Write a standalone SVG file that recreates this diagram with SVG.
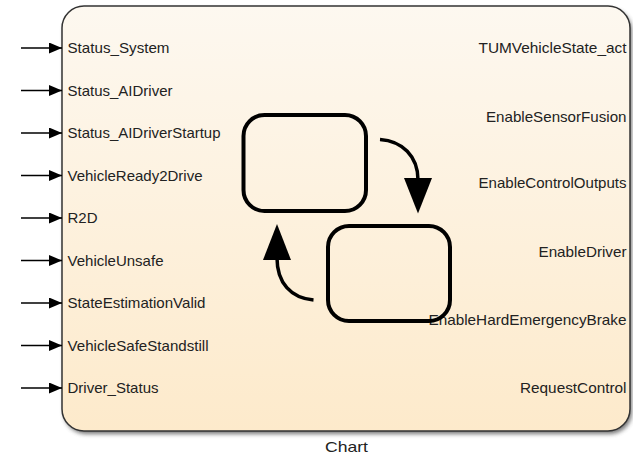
<svg xmlns="http://www.w3.org/2000/svg" width="633" height="454" viewBox="0 0 633 454">
<defs>
<linearGradient id="bg" x1="0" y1="0" x2="0" y2="1">
<stop offset="0" stop-color="#fdf8f0"/>
<stop offset="1" stop-color="#fdeacb"/>
</linearGradient>
<filter id="sh" x="-5%" y="-5%" width="110%" height="115%">
<feGaussianBlur stdDeviation="2"/>
</filter>
<marker id="in" viewBox="0 0 13 11" refX="13" refY="5.5" markerWidth="13" markerHeight="11" markerUnits="userSpaceOnUse" orient="auto">
<path d="M0,0 L13,5.5 L0,11 Z" fill="#000"/>
</marker>
</defs>
<style>
text{font-family:"Liberation Sans",Arial,sans-serif;font-size:14.5px;fill:#222}
.r{text-anchor:end}
.st{fill:none;stroke:#000;stroke-width:4}
.tr{fill:none;stroke:#000;stroke-width:3.5}
.port{stroke:#000;stroke-width:1.5;fill:none}
</style>
<g id="chart">
<rect x="64" y="9" width="568" height="425" rx="22" fill="#555" filter="url(#sh)" opacity="0.8"/>
<rect x="62" y="6" width="568" height="425" rx="22" fill="url(#bg)" stroke="#333" stroke-width="1.5"/>
<text x="346.5" y="451.5" style="text-anchor:middle" textLength="43" lengthAdjust="spacingAndGlyphs">Chart</text>
</g>
<g id="inputs">
<line class="port" x1="21" y1="48" x2="62" y2="48" marker-end="url(#in)"/>
<line class="port" x1="21" y1="90.5" x2="62" y2="90.5" marker-end="url(#in)"/>
<line class="port" x1="21" y1="133" x2="62" y2="133" marker-end="url(#in)"/>
<line class="port" x1="21" y1="175.5" x2="62" y2="175.5" marker-end="url(#in)"/>
<line class="port" x1="21" y1="218" x2="62" y2="218" marker-end="url(#in)"/>
<line class="port" x1="21" y1="260.5" x2="62" y2="260.5" marker-end="url(#in)"/>
<line class="port" x1="21" y1="303" x2="62" y2="303" marker-end="url(#in)"/>
<line class="port" x1="21" y1="345.5" x2="62" y2="345.5" marker-end="url(#in)"/>
<line class="port" x1="21" y1="388" x2="62" y2="388" marker-end="url(#in)"/>
</g>
<g id="input-labels">
<text x="67.5" y="53.3" textLength="102" lengthAdjust="spacingAndGlyphs">Status_System</text>
<text x="67.5" y="95.8" textLength="105" lengthAdjust="spacingAndGlyphs">Status_AIDriver</text>
<text x="67.5" y="138.3" textLength="153" lengthAdjust="spacingAndGlyphs">Status_AIDriverStartup</text>
<text x="67.5" y="180.8" textLength="135" lengthAdjust="spacingAndGlyphs">VehicleReady2Drive</text>
<text x="67.5" y="223.3" textLength="30" lengthAdjust="spacingAndGlyphs">R2D</text>
<text x="67.5" y="265.8" textLength="96" lengthAdjust="spacingAndGlyphs">VehicleUnsafe</text>
<text x="67.5" y="308.3" textLength="138" lengthAdjust="spacingAndGlyphs">StateEstimationValid</text>
<text x="67.5" y="350.8" textLength="141" lengthAdjust="spacingAndGlyphs">VehicleSafeStandstill</text>
<text x="67.5" y="393.3" textLength="91" lengthAdjust="spacingAndGlyphs">Driver_Status</text>
</g>
<g id="output-labels">
<text class="r" x="626.5" y="53.3" textLength="148" lengthAdjust="spacingAndGlyphs">TUMVehicleState_act</text>
<text class="r" x="626.5" y="121.7" textLength="140.5" lengthAdjust="spacingAndGlyphs">EnableSensorFusion</text>
<text class="r" x="626.5" y="188.3" textLength="148" lengthAdjust="spacingAndGlyphs">EnableControlOutputs</text>
<text class="r" x="626.5" y="257.3" textLength="88" lengthAdjust="spacingAndGlyphs">EnableDriver</text>
<text class="r" x="626.5" y="325.3" textLength="198" lengthAdjust="spacingAndGlyphs">EnableHardEmergencyBrake</text>
<text class="r" x="626.5" y="393.3" textLength="106.5" lengthAdjust="spacingAndGlyphs">RequestControl</text>
</g>
<g id="state1">
<rect class="st" x="243.5" y="115" width="122.5" height="96" rx="21"/>
</g>
<g id="state2">
<rect class="st" x="328" y="226" width="122" height="95" rx="21"/>
</g>
<g id="connectors">
<path class="tr" d="M380,139.5 C402,141 418,156 418,180"/>
<path d="M404,178 L432,178 L418,213.5 Z" fill="#000"/>
<path class="tr" d="M313.5,300 C291,298 277,283 277,258"/>
<path d="M263,260 L291,260 L277,224 Z" fill="#000"/>
</g>
</svg>
